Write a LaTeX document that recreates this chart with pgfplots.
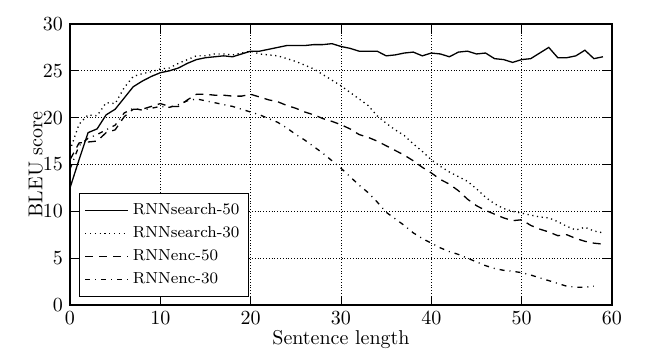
\documentclass[border=0pt]{standalone}
\usepackage{pgfplots}
\pgfplotsset{compat=1.18}
\begin{document}
\begin{tikzpicture}
\begin{axis}[
  scale only axis,
  width=271pt, height=140.5pt,
  xmin=0, xmax=60, ymin=0, ymax=30,
  xtick={0,10,...,60}, ytick={0,5,...,30},
  grid=major,
  major grid style={black, densely dotted, line width=0.4pt},
  axis line style={black, line width=0.6pt},
  tick style={black, line width=0.4pt},
  tick label style={font=\normalsize},
  xlabel={Sentence length}, ylabel={BLEU score},
  xlabel style={at={(axis description cs:0.5,0)}, anchor=north, yshift=-9pt},
  ylabel style={at={(axis description cs:0,0.5)}, anchor=south, yshift=10pt},
  legend style={font=\footnotesize, draw=black, line width=0.6pt,
    at={(axis description cs:0,0)}, anchor=south west, xshift=4.5pt, yshift=4pt,
    inner xsep=2.5pt, inner ysep=3pt, row sep=0.5pt},
  legend cell align=left,
  legend image code/.code={\draw[#1] (0pt,0pt) -- (12.5pt,0pt); \path (0pt,0pt) -- (21.5pt,0pt);},
  every axis plot/.append style={black, line width=0.65pt, mark=none},
]
\addplot[solid] coordinates {
(0,12.5)(1,15.5)(2,18.4)(3,18.8)(4,20.3)(5,20.9)(6,22.1)(7,23.3)(8,23.9)(9,24.4)
(10,24.8)(11,25.0)(12,25.3)(13,25.8)(14,26.2)(15,26.4)(16,26.5)(17,26.6)(18,26.5)(19,26.8)
(20,27.1)(21,27.1)(22,27.3)(23,27.5)(24,27.7)(25,27.7)(26,27.7)(27,27.8)(28,27.8)(29,27.9)
(30,27.6)(31,27.4)(32,27.1)(33,27.1)(34,27.1)(35,26.6)(36,26.7)(37,26.9)(38,27.0)(39,26.6)
(40,26.9)(41,26.8)(42,26.5)(43,27.0)(44,27.1)(45,26.8)(46,26.9)(47,26.3)(48,26.2)(49,25.9)
(50,26.2)(51,26.3)(52,26.9)(53,27.5)(54,26.4)(55,26.4)(56,26.6)(57,27.2)(58,26.3)(59,26.5)};
\addlegendentry{RNNsearch-50}
\addplot[dash pattern=on 0.6pt off 1.8pt] coordinates {
(0,16.5)(1,19.3)(2,20.3)(3,20.2)(4,21.6)(5,21.5)(6,23.2)(7,24.4)(8,24.7)(9,24.9)
(10,25.2)(11,25.3)(12,25.8)(13,26.2)(14,26.6)(15,26.6)(16,26.8)(17,26.8)(18,26.7)(19,26.9)
(20,27.1)(21,26.8)(22,26.7)(23,26.6)(24,26.3)(25,26.0)(26,25.6)(27,25.2)(28,24.6)(29,24.0)
(30,23.4)(31,22.7)(32,22.0)(33,21.3)(34,20.2)(35,19.4)(36,18.7)(37,18.1)(38,17.2)(39,16.4)
(40,15.5)(41,14.8)(42,14.2)(43,13.7)(44,13.2)(45,12.4)(46,11.5)(47,10.8)(48,10.3)(49,10.0)
(50,9.8)(51,9.6)(52,9.4)(53,9.3)(54,8.9)(55,8.4)(56,8.0)(57,8.3)(58,7.9)(59,7.7)};
\addlegendentry{RNNsearch-30}
\addplot[dash pattern=on 4pt off 3pt] coordinates {
(0,15.5)(1,17.3)(2,17.4)(3,17.5)(4,18.4)(5,18.7)(6,20.1)(7,20.9)(8,20.9)(9,21.2)
(10,21.5)(11,21.2)(12,21.2)(13,21.9)(14,22.5)(15,22.5)(16,22.4)(17,22.4)(18,22.3)(19,22.3)
(20,22.5)(21,22.2)(22,21.9)(23,21.7)(24,21.3)(25,21.0)(26,20.6)(27,20.3)(28,19.9)(29,19.6)
(30,19.25)(31,18.8)(32,18.2)(33,17.9)(34,17.5)(35,17.0)(36,16.5)(37,16.0)(38,15.4)(39,14.7)
(40,14.1)(41,13.4)(42,12.9)(43,12.2)(44,11.3)(45,10.6)(46,10.1)(47,9.7)(48,9.3)(49,9.0)
(50,9.1)(51,8.5)(52,8.1)(53,7.8)(54,7.4)(55,7.5)(56,7.1)(57,6.8)(58,6.6)(59,6.5)};
\addlegendentry{RNNenc-50}
\addplot[dash pattern=on 2.5pt off 2.5pt on 0.5pt off 2.5pt] coordinates {
(0,14.5)(1,17.0)(2,17.8)(3,18.2)(4,18.7)(5,19.2)(6,20.5)(7,21.0)(8,20.8)(9,21.0)
(10,21.2)(11,21.1)(12,21.4)(13,21.8)(14,22.0)(15,21.8)(16,21.6)(17,21.4)(18,21.2)(19,20.9)
(20,20.6)(21,20.3)(22,19.9)(23,19.5)(24,18.9)(25,18.2)(26,17.6)(27,16.9)(28,16.2)(29,15.4)
(30,14.6)(31,13.7)(32,12.8)(33,12.0)(34,11.0)(35,9.9)(36,9.2)(37,8.5)(38,7.7)(39,7.1)
(40,6.6)(41,6.1)(42,5.7)(43,5.4)(44,5.0)(45,4.6)(46,4.2)(47,3.9)(48,3.7)(49,3.6)
(50,3.45)(51,3.2)(52,2.9)(53,2.6)(54,2.3)(55,2.0)(56,1.9)(57,1.9)(58,2.0)};
\addlegendentry{RNNenc-30}
\end{axis}
\path ([shift={(-35pt,-28.5pt)}]current axis.south west) rectangle ([shift={(20.5pt,12pt)}]current axis.north east);
\end{tikzpicture}
\end{document}
